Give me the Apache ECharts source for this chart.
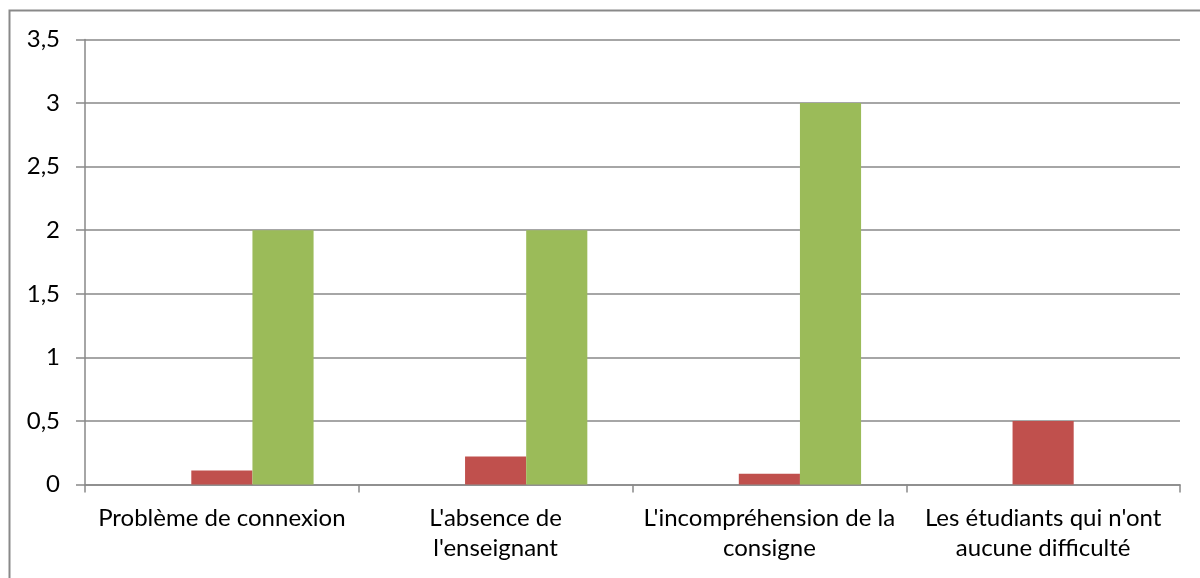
<!DOCTYPE html>
<html>
<head>
<meta charset="utf-8">
<script src="https://cdn.jsdelivr.net/npm/echarts@6/dist/echarts.min.js"></script>
<style>
  html, body { margin: 0; padding: 0; background: #fff; }
  #main { width: 1200px; height: 578px; }
</style>
</head>
<body>
<div id="main"></div>
<script>
// categories and values
var categories = [
  "Problème de connexion",
  "L'absence de\nl'enseignant",
  "L'incompréhension de la\nconsigne",
  "Les étudiants qui n'ont\naucune difficulté"
];
var seriesBlue = [0, 0, 0, 0];
var seriesRed = [0.11, 0.22, 0.085, 0.5];
var seriesGreen = [2, 2, 3, 0];

var myChart = echarts.init(document.getElementById('main'));
var font = 'Lato, "Open Sans", sans-serif';

myChart.setOption({
  animation: false,
  graphic: [{
    type: 'polyline',
    shape: { points: [[9.5, 578], [9.5, 10.5], [1200, 10.5]] },
    style: { fill: null, stroke: '#898989', lineWidth: 2 }
  }],
  grid: { left: 85, right: 20, top: 39.5, bottom: 93.5 },
  xAxis: {
    type: 'category',
    data: categories,
    axisLine: { lineStyle: { color: '#898989', width: 1.5 } },
    axisTick: { show: true, length: 8, lineStyle: { color: '#898989', width: 1.5 } },
    axisLabel: {
      color: '#000', fontSize: 24, fontFamily: font,
      lineHeight: 30, margin: 19, interval: 0
    }
  },
  yAxis: {
    type: 'value',
    min: 0, max: 3.5, interval: 0.5,
    axisLine: { show: true, lineStyle: { color: '#898989', width: 1.5 } },
    axisTick: { show: true, inside: false, length: 9, lineStyle: { color: '#898989', width: 1.5 } },
    splitLine: { lineStyle: { color: '#898989', width: 1.5 } },
    axisLabel: {
      color: '#000', fontSize: 24, fontFamily: font, margin: 25,
      formatter: function (v) { return String(v).replace('.', ','); }
    }
  },
  series: [
    { name: 'S1', type: 'bar', data: seriesBlue, itemStyle: { color: '#4F81BD' },
      barGap: '0%', barCategoryGap: '33%' },
    { name: 'S2', type: 'bar', data: seriesRed, itemStyle: { color: '#C0504D' } },
    { name: 'S3', type: 'bar', data: seriesGreen, itemStyle: { color: '#9BBB59' } }
  ]
});
</script>
</body>
</html>
